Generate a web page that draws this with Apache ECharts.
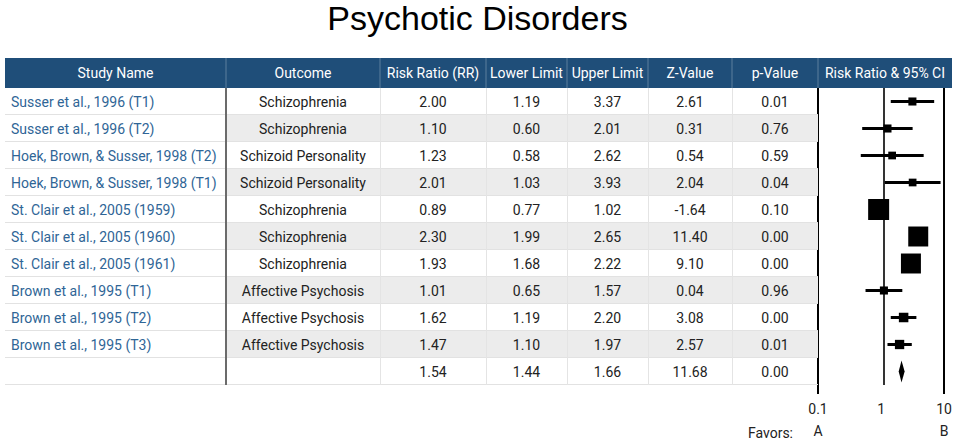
<!DOCTYPE html>
<html><head><meta charset="utf-8">
<script src="https://cdn.jsdelivr.net/npm/echarts@6/dist/echarts.min.js"></script>
<style>html,body{margin:0;padding:0;background:#fff}#c{width:955px;height:442px}</style>
</head><body><div id="c"></div>
<script>
// ---------- data ----------
const headers = ['Study Name', 'Outcome', 'Risk Ratio (RR)', 'Lower Limit', 'Upper Limit', 'Z-Value', 'p-Value', 'Risk Ratio & 95% CI'];
const studyNames = ['Susser et al., 1996 (T1)', 'Susser et al., 1996 (T2)', 'Hoek, Brown, & Susser, 1998 (T2)', 'Hoek, Brown, & Susser, 1998 (T1)', 'St. Clair et al., 2005 (1959)', 'St. Clair et al., 2005 (1960)', 'St. Clair et al., 2005 (1961)', 'Brown et al., 1995 (T1)', 'Brown et al., 1995 (T2)', 'Brown et al., 1995 (T3)', ''];
const outcomes = ['Schizophrenia', 'Schizophrenia', 'Schizoid Personality', 'Schizoid Personality', 'Schizophrenia', 'Schizophrenia', 'Schizophrenia', 'Affective Psychosis', 'Affective Psychosis', 'Affective Psychosis', ''];
const riskRatio = [2.00, 1.10, 1.23, 2.01, 0.89, 2.30, 1.93, 1.01, 1.62, 1.47, 1.54];
const lowerLimit = [1.19, 0.60, 0.58, 1.03, 0.77, 1.99, 1.68, 0.65, 1.19, 1.10, 1.44];
const upperLimit = [3.37, 2.01, 2.62, 3.93, 1.02, 2.65, 2.22, 1.57, 2.20, 1.97, 1.66];
const zValue = [2.61, 0.31, 0.54, 2.04, -1.64, 11.40, 9.10, 0.04, 3.08, 2.57, 11.68];
const pValue = [0.01, 0.76, 0.59, 0.04, 0.10, 0.00, 0.00, 0.96, 0.00, 0.01, 0.00];
const studyWeight = [3.6, 3.6, 3.3, 3.3, 24.4, 22.1, 22.1, 3.6, 5.0, 4.8]; // relative weights; last row is the summary
const axisTicks = [0.1, 1, 10];
const favorsLabels = ['A', 'B'];

// ---------- layout ----------
const FONT = 'Roboto, "Open Sans", sans-serif';
const colEdges = [0, 221, 375, 481, 562, 643, 727, 813, 947];
const tableWidth = colEdges[colEdges.length - 1];
const nRows = riskRatio.length;
const rowIds = riskRatio.map((_, i) => String(i));
const halfDecades = 0.682; // forest-panel data scale (about 96 px per decade around RR = 1)

const chart = echarts.init(document.getElementById('c'), null, { renderer: 'svg' });

function fmt(v) { return v.toFixed(2); }

function renderHeader(params, api) {
  const i = api.value(0);
  const p0 = api.coord([colEdges[i], 0]);
  const p1 = api.coord([colEdges[i + 1], 0]);
  const h = api.size([0, 1])[1];
  const children = [{
    type: 'rect', shape: { x: p0[0], y: p0[1] - h / 2, width: p1[0] - p0[0], height: h },
    style: { fill: '#1f4e79' }
  }, {
    type: 'text', style: { text: headers[i], x: (p0[0] + p1[0]) / 2, y: p0[1], align: 'center', verticalAlign: 'middle', fill: '#ffffff', fontSize: 14, fontFamily: FONT }
  }];
  if (i > 0) children.push({
    type: 'line', shape: { x1: p0[0], y1: p0[1] - h / 2, x2: p0[0], y2: p0[1] + h / 2 },
    style: { stroke: 'rgba(255,255,255,0.28)', lineWidth: 1 }
  });
  return { type: 'group', children };
}

function renderBody(params, api) {
  const i = api.value(0);
  const c = api.coord([0, i]);
  const h = api.size([0, 1])[1];
  const top = c[1] - h / 2, bot = c[1] + h / 2, cy = c[1];
  const X = colEdges.map(e => api.coord([e, i])[0]);
  const children = [];
  if (i % 2 === 1) children.push({
    type: 'rect', shape: { x: X[1], y: top, width: X[7] - X[1], height: h }, style: { fill: '#ececec' }
  });
  children.push({ type: 'line', shape: { x1: X[0], y1: bot - 0.5, x2: X[7], y2: bot - 0.5 }, style: { stroke: '#e2e2e2', lineWidth: 1 } });
  for (let k = 2; k <= 6; k++) {
    children.push({ type: 'line', shape: { x1: X[k] + 0.5, y1: top, x2: X[k] + 0.5, y2: bot }, style: { stroke: '#e4e4e4', lineWidth: 1 } });
  }
  children.push({ type: 'line', shape: { x1: X[1], y1: top, x2: X[1], y2: bot }, style: { stroke: '#6b6b6b', lineWidth: 2 } });
  children.push({ type: 'text', style: { text: studyNames[i], x: X[0] + 6, y: cy, align: 'left', verticalAlign: 'middle', fill: '#2f6596', fontSize: 14, fontFamily: FONT } });
  const cells = [outcomes[i], fmt(riskRatio[i]), fmt(lowerLimit[i]), fmt(upperLimit[i]), fmt(zValue[i]), fmt(pValue[i])];
  cells.forEach((t, k) => {
    children.push({ type: 'text', style: { text: t, x: (X[k + 1] + X[k + 2]) / 2, y: cy, align: 'center', verticalAlign: 'middle', fill: '#222222', fontSize: 14, fontFamily: FONT } });
  });
  return { type: 'group', children };
}

function renderForest(params, api) {
  const i = api.value(1);
  const c = api.coord([api.value(0), i]);
  const lo = api.coord([api.value(2), i]);
  const hi = api.coord([api.value(3), i]);
  if (i === nRows - 1) {
    const hh = 11;
    return {
      type: 'polygon',
      shape: { points: [[lo[0], c[1]], [c[0], c[1] - hh], [hi[0], c[1]], [c[0], c[1] + hh]] },
      style: { fill: '#000' }
    };
  }
  const side = 4.25 * Math.sqrt(api.value(4));
  return {
    type: 'group', children: [
      { type: 'line', shape: { x1: lo[0], y1: c[1], x2: hi[0], y2: c[1] }, style: { stroke: '#000', lineWidth: 3 } },
      { type: 'rect', shape: { x: c[0] - side / 2, y: c[1] - side / 2, width: side, height: side }, style: { fill: '#000' } }
    ]
  };
}

const forestData = riskRatio.map((rr, i) => [rr, i, lowerLimit[i], upperLimit[i], i < studyWeight.length ? studyWeight[i] : '-']);

const option = {
  backgroundColor: '#ffffff',
  animation: false,
  title: {
    text: 'Psychotic Disorders', left: 'center', top: 1, padding: 0,
    textStyle: { fontFamily: '"Liberation Sans", Arial, sans-serif', fontSize: 34, fontWeight: 'normal', color: '#000' }
  },
  grid: [
    { left: 5, top: 58, width: tableWidth, height: 30 },
    { left: 5, top: 88, width: tableWidth, height: 297 },
    { left: 818, top: 88, width: 131, height: 297 },
    { left: 818, top: 88, width: 131, height: 307 }
  ],
  xAxis: [
    { gridIndex: 0, type: 'value', min: 0, max: tableWidth, show: false },
    { gridIndex: 1, type: 'value', min: 0, max: tableWidth, show: false },
    { gridIndex: 2, type: 'log', min: Math.pow(10, -halfDecades), max: Math.pow(10, halfDecades), show: false },
    {
      gridIndex: 3, type: 'log', min: axisTicks[0], max: axisTicks[axisTicks.length - 1], position: 'bottom', splitNumber: 2,
      axisLine: { show: false }, axisTick: { show: false }, splitLine: { show: false },
      axisLabel: {
        margin: 4, fontSize: 14, lineHeight: 22, color: '#222', fontFamily: FONT,
        formatter: function (v) {
          const e = Math.round(Math.log10(v));
          const t = axisTicks.find(a => Math.round(Math.log10(a)) === e);
          const label = t < 1 ? String(t) : String(Math.round(t));
          if (e === Math.round(Math.log10(axisTicks[0]))) return label + '\n' + favorsLabels[0];
          if (e === Math.round(Math.log10(axisTicks[axisTicks.length - 1]))) return label + '\n' + favorsLabels[1];
          return label;
        }
      }
    },
    {
      gridIndex: 3, type: 'value', min: 0, max: 1, interval: 1, position: 'top',
      axisLine: { show: false }, axisTick: { show: false }, axisLabel: { show: false },
      splitLine: { show: true, lineStyle: { color: '#000', width: 2 } }
    }
  ],
  yAxis: [
    { gridIndex: 0, type: 'category', data: ['h'], show: false },
    { gridIndex: 1, type: 'category', data: rowIds, inverse: true, show: false },
    { gridIndex: 2, type: 'category', data: rowIds, inverse: true, show: false },
    { gridIndex: 3, type: 'value', min: 0, max: 1, show: false }
  ],
  graphic: [{
    type: 'text', x: 793, y: 433,
    style: { text: 'Favors:', fontSize: 14, fill: '#222', fontFamily: FONT, align: 'right', verticalAlign: 'middle' }
  }],
  series: [
    { type: 'custom', xAxisIndex: 0, yAxisIndex: 0, data: headers.map((_, i) => [i]), renderItem: renderHeader, silent: true },
    { type: 'custom', xAxisIndex: 1, yAxisIndex: 1, data: rowIds.map((_, i) => [i]), renderItem: renderBody, silent: true },
    {
      type: 'custom', xAxisIndex: 2, yAxisIndex: 2, data: forestData, encode: { x: [0, 2, 3], y: 1 },
      renderItem: renderForest, silent: true, clip: false,
      markLine: {
        silent: true, symbol: 'none', label: { show: false },
        lineStyle: { color: '#000', width: 1.6, type: 'solid' },
        data: [{ xAxis: 1 }]
      }
    }
  ]
};
chart.setOption(option);
</script>
</body></html>
